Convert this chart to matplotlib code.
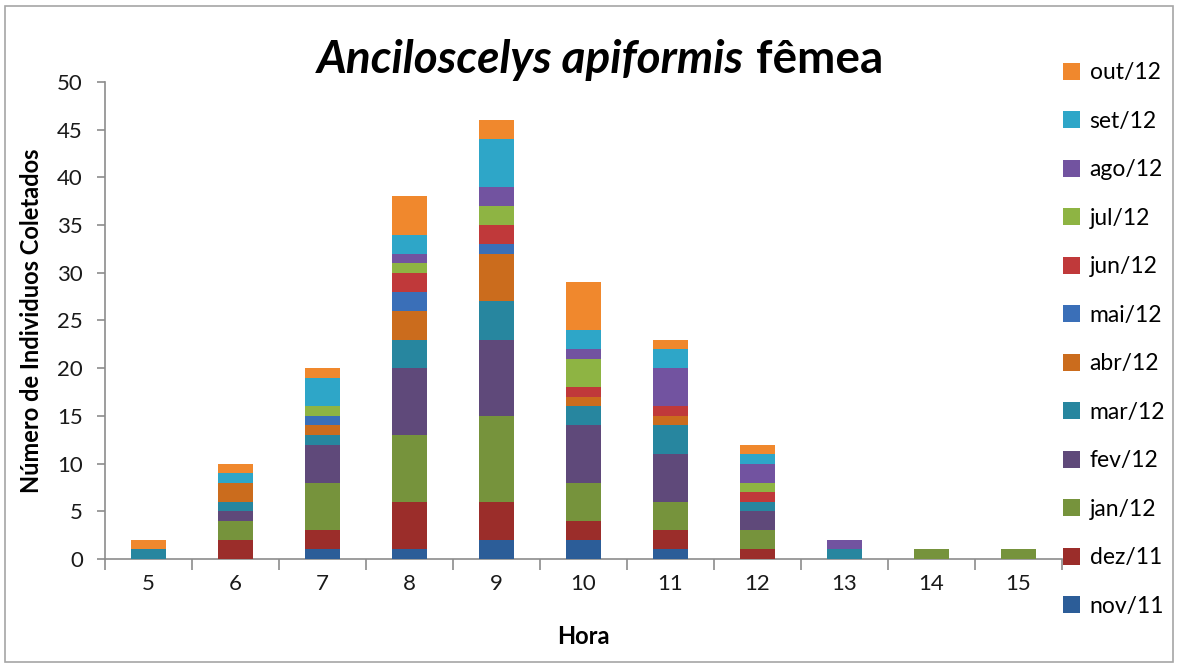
import matplotlib
matplotlib.use("Agg")
import matplotlib.pyplot as plt
from matplotlib.patches import Rectangle, Patch
import numpy as np

hours = [5, 6, 7, 8, 9, 10, 11, 12, 13, 14, 15]
months = ["nov/11", "dez/11", "jan/12", "fev/12", "mar/12", "abr/12",
          "mai/12", "jun/12", "jul/12", "ago/12", "set/12", "out/12"]

nov11 = [0, 0, 1, 1, 2, 2, 1, 0, 0, 0, 0]
dez11 = [0, 2, 2, 5, 4, 2, 2, 1, 0, 0, 0]
jan12 = [0, 2, 5, 7, 9, 4, 3, 2, 0, 1, 1]
fev12 = [0, 1, 4, 7, 8, 6, 5, 2, 0, 0, 0]
mar12 = [1, 1, 1, 3, 4, 2, 3, 1, 1, 0, 0]
abr12 = [0, 2, 1, 3, 5, 1, 1, 0, 0, 0, 0]
mai12 = [0, 0, 1, 2, 1, 0, 0, 0, 0, 0, 0]
jun12 = [0, 0, 0, 2, 2, 1, 1, 1, 0, 0, 0]
jul12 = [0, 0, 1, 1, 2, 3, 0, 1, 0, 0, 0]
ago12 = [0, 0, 0, 1, 2, 1, 4, 2, 1, 0, 0]
set12 = [0, 1, 3, 2, 5, 2, 2, 1, 0, 0, 0]
out12 = [1, 1, 1, 4, 2, 5, 1, 1, 0, 0, 0]

series = [nov11, dez11, jan12, fev12, mar12, abr12,
          mai12, jun12, jul12, ago12, set12, out12]
colors = ["#2C5D98", "#9B2D2A", "#76933C", "#5F497A", "#27869F", "#CB6C1D",
          "#3A6FB8", "#C0393A", "#8EB443", "#7253A0", "#2EA6C8", "#F0882D"]

FONT = "Lato"
W, H = 1179, 668
fig = plt.figure(figsize=(W / 100, H / 100), dpi=100)
fig.patches.append(Rectangle((5 / W, 6 / H), 1 - 11 / W, 1 - 12 / H,
                             transform=fig.transFigure, fill=False,
                             edgecolor="#A6A6A6", linewidth=1.2))

ax = fig.add_axes([105 / W, 1 - 559 / H, (1062 - 105) / W, (559 - 82) / H])
x = np.arange(len(hours))
bottom = np.zeros(len(hours))
handles = []
for vals, col, lab in zip(series, colors, months):
    v = np.array(vals, dtype=float)
    ax.bar(x, v, width=0.4, bottom=bottom, color=col, edgecolor="none",
           label=lab, zorder=3)
    bottom += v
    handles.append(Patch(facecolor=col, edgecolor="none", label=lab))

ax.set_xlim(-0.5, len(hours) - 0.5)
ax.set_ylim(0, 50)
ax.set_yticks(range(0, 51, 5))
ax.set_xticks(x)
ax.set_xticklabels([str(h) for h in hours])
ax.set_xticks(np.arange(-0.5, len(hours), 1), minor=True)
ax.tick_params(axis="x", which="major", length=0, pad=11,
               labelsize=16, labelcolor="#1A1A1A")
ax.tick_params(axis="x", which="minor", length=8, color="#8C8C8C", width=1.2)
ax.tick_params(axis="y", length=6, color="#8C8C8C", width=1.2, pad=10,
               labelsize=16, labelcolor="#1A1A1A")
for lbl in ax.get_xticklabels() + ax.get_yticklabels():
    lbl.set_fontfamily(FONT)
for s in ["top", "right"]:
    ax.spines[s].set_visible(False)
for s in ["left", "bottom"]:
    ax.spines[s].set_color("#8C8C8C")
    ax.spines[s].set_linewidth(1.2)

ax.set_ylabel("Número de Individuos Coletados", fontsize=17,
              fontweight="bold", family=FONT, labelpad=10)
ax.set_xlabel("Hora", fontsize=17, fontweight="bold", family=FONT,
              labelpad=22)

fig.text(744 / W, 1 - 60 / H, "Anciloscelys apiformis", fontsize=33,
         style="italic", fontweight="bold", family=FONT, ha="right",
         va="center")
fig.text(756 / W, 1 - 60 / H, "fêmea", fontsize=33, fontweight="bold",
         family=FONT, ha="left", va="center")

leg = fig.legend(handles=handles[::-1], loc="upper left",
                 bbox_to_anchor=(1054 / W, 1 - 53 / H), frameon=False,
                 prop={"family": FONT, "size": 16.5}, handlelength=0.75,
                 handleheight=0.75, handletextpad=0.4, labelspacing=1.2,
                 borderaxespad=0)

fig.savefig("out.png", dpi=100)
